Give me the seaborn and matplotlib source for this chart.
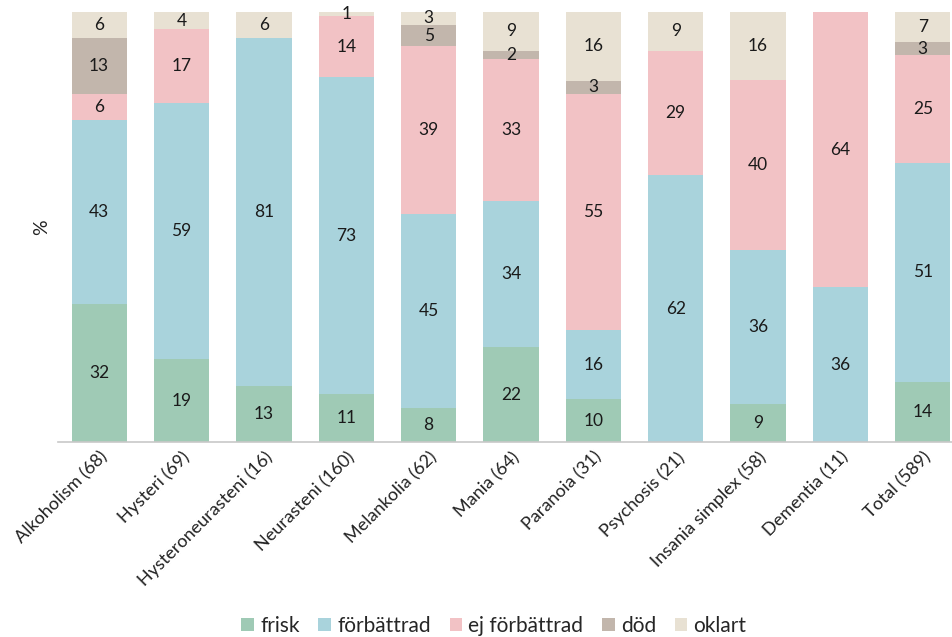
import matplotlib
matplotlib.use("Agg")
import matplotlib.pyplot as plt
import seaborn as sns
import numpy as np
from matplotlib.patches import Patch

categories = ["Alkoholism (68)", "Hysteri (69)", "Hysteroneurasteni (16)", "Neurasteni (160)",
              "Melankolia (62)", "Mania (64)", "Paranoia (31)", "Psychosis (21)",
              "Insania simplex (58)", "Dementia (11)", "Total (589)"]
series_names = ["frisk", "förbättrad", "ej förbättrad", "död", "oklart"]
frisk = [32, 19, 13, 11, 8, 22, 10, 0, 9, 0, 14]
forbattrad = [43, 59, 81, 73, 45, 34, 16, 62, 36, 36, 51]
ej_forbattrad = [6, 17, 0, 14, 39, 33, 55, 29, 40, 64, 25]
dod = [13, 0, 0, 0, 5, 2, 3, 0, 0, 0, 3]
oklart = [6, 4, 6, 1, 3, 9, 16, 9, 16, 0, 7]

colors = ["#9fcab5", "#a9d3dc", "#f2c2c5", "#c2b6ac", "#e8e1d3"]

sns.set_theme(style="white")
plt.rcParams["font.family"] = ["Lato", "DejaVu Sans"]

fig = plt.figure(figsize=(9.53, 6.37), dpi=100)
ax = fig.add_axes([58 / 953, 1 - 442 / 637, (964 - 58) / 953, 430 / 637])

layers = np.array([frisk, forbattrad, ej_forbattrad, dod, oklart], dtype=float)
# percent-stacked: every column is scaled to fill 0-100
totals = layers.sum(axis=0)
shares = layers / totals * 100

bottom = np.zeros(len(categories))
for name, vals, pct, col in zip(series_names, layers, shares, colors):
    sns.barplot(x=categories, y=pct, bottom=bottom, color=col, width=0.67,
                saturation=1, ax=ax, linewidth=0, order=categories)
    for i, v in enumerate(vals):
        if v > 0:
            ax.text(i, bottom[i] + pct[i] / 2, f"{int(v)}", ha="center", va="center",
                    fontsize=12.5, color="#1a1a1a")
    bottom += pct

ax.set_ylim(0, 100)
ax.set_xlim(-0.5, len(categories) - 0.5)
ax.set_yticks([])
ax.set_ylabel("%", fontsize=14, labelpad=6, color="#222222")
for s in ["top", "right", "left"]:
    ax.spines[s].set_visible(False)
ax.spines["bottom"].set_color("#c8c8c8")
ax.spines["bottom"].set_linewidth(1.2)
ax.tick_params(axis="x", length=0, pad=5)
plt.setp(ax.get_xticklabels(), rotation=45, ha="right", rotation_mode="anchor",
         fontsize=13, color="#222222")

handles = [Patch(facecolor=c, edgecolor="none") for c in colors]
fig.legend(handles, series_names, loc="center", bbox_to_anchor=(494 / 953, 1 - 626 / 637),
           ncol=5, frameon=False, fontsize=15, handlelength=0.6, handleheight=0.6,
           handletextpad=0.3, columnspacing=0.9)

fig.savefig("out.png", dpi=100)
